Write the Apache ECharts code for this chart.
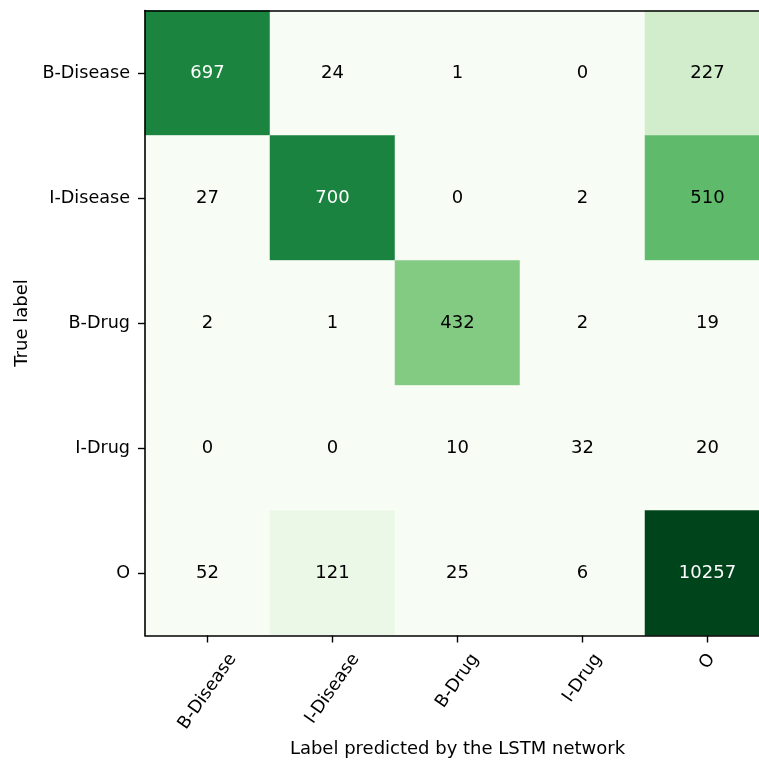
<!DOCTYPE html>
<html>
<head>
<meta charset="utf-8">
<script src="https://cdn.jsdelivr.net/npm/echarts@6/dist/echarts.min.js"></script>
<style>html,body{margin:0;padding:0;background:#fff;}#c{width:759px;height:760px;}</style>
</head>
<body>
<div id="c"></div>
<script>
const predictedLabels = ['B-Disease', 'I-Disease', 'B-Drug', 'I-Drug', 'O'];
const trueLabels = ['B-Disease', 'I-Disease', 'B-Drug', 'I-Drug', 'O'];
const rowBDisease = [697, 24, 1, 0, 227];
const rowIDisease = [27, 700, 0, 2, 510];
const rowBDrug = [2, 1, 432, 2, 19];
const rowIDrug = [0, 0, 10, 32, 20];
const rowO = [52, 121, 25, 6, 10257];
const matrix = [rowBDisease, rowIDisease, rowBDrug, rowIDrug, rowO];

const greens = ['#f7fcf5','#e5f5e0','#c7e9c0','#a1d99b','#74c476','#41ab5d','#238b45','#006d2c','#00441b'];
const font = 'DejaVu Sans';
const tickFontSize = 17.6;
const labelAngle = 55;

const data = [];
matrix.forEach((row, r) => {
  row.forEach((v, c) => {
    data.push({
      value: [c, r, v],
      label: { color: v > 600 ? '#ffffff' : '#000000' }
    });
  });
});

const frameAxis = {
  show: true,
  axisLine: { show: true, lineStyle: { color: '#000', width: 1.6 } },
  axisTick: { show: false },
  axisLabel: { show: false },
  splitLine: { show: false }
};

const chart = echarts.init(document.getElementById('c'), null, { renderer: 'canvas' });
chart.setOption({
  animation: false,
  backgroundColor: '#ffffff',
  grid: { left: 145, top: 10.5, width: 625, height: 625, outerBoundsMode: 'none', containLabel: false },
  xAxis: [{
    type: 'category',
    data: predictedLabels,
    name: 'Label predicted by the LSTM network',
    nameLocation: 'middle',
    nameGap: 105,
    nameTextStyle: { fontFamily: font, fontSize: 18, color: '#000' },
    axisLine: { show: true, lineStyle: { color: '#000', width: 1.6 } },
    axisTick: { show: true, alignWithLabel: true, length: 7, lineStyle: { color: '#000', width: 1.4 } },
    axisLabel: { show: false },
    splitLine: { show: false },
    z: 10
  }, Object.assign({ type: 'category', data: predictedLabels, position: 'top', z: 10 }, frameAxis)],
  yAxis: [{
    type: 'category',
    data: trueLabels,
    inverse: true,
    name: 'True label',
    nameLocation: 'middle',
    nameRotate: 90,
    nameGap: 113,
    nameTextStyle: { fontFamily: font, fontSize: 18, color: '#000' },
    axisLine: { show: true, lineStyle: { color: '#000', width: 1.6 } },
    axisTick: { show: true, alignWithLabel: true, length: 7, lineStyle: { color: '#000', width: 1.4 } },
    axisLabel: { margin: 15, fontFamily: font, fontSize: tickFontSize, color: '#000' },
    splitLine: { show: false },
    z: 10
  }, Object.assign({ type: 'category', data: trueLabels, inverse: true, position: 'right', z: 10 }, frameAxis)],
  visualMap: {
    show: false,
    type: 'continuous',
    min: 55,
    max: 880,
    dimension: 2,
    seriesIndex: 0,
    inRange: { color: greens }
  },
  series: [{
    type: 'heatmap',
    xAxisIndex: 0,
    yAxisIndex: 0,
    data: data,
    label: {
      show: true,
      fontFamily: font,
      fontSize: 18,
      formatter: p => String(p.value[2])
    },
    itemStyle: { borderWidth: 0 },
    emphasis: { disabled: true }
  }]
});

// Rotated x tick labels, matplotlib-style: rotated bounding box centred on the tick, top at a fixed pad below the axis
const ctx = document.createElement('canvas').getContext('2d');
ctx.font = tickFontSize + 'px "' + font + '"';
const a = labelAngle * Math.PI / 180;
const inkH = 13;
const axisY = chart.convertToPixel({ yAxisIndex: 0 }, trueLabels[trueLabels.length - 1]) + 62.5;
const bottomY = chart.getModel().getComponent('grid', 0).coordinateSystem.getRect();
const gridBottom = bottomY.y + bottomY.height;
const labelTop = gridBottom + 16.5;
const graphics = predictedLabels.map(name => {
  const L = ctx.measureText(name).width;
  const cx = chart.convertToPixel({ xAxisIndex: 0 }, name);
  const cy = labelTop + (L * Math.sin(a) + inkH * Math.cos(a)) / 2;
  return {
    type: 'text',
    x: cx,
    y: cy,
    rotation: a,
    silent: true,
    style: {
      text: name,
      fontFamily: font,
      fontSize: tickFontSize,
      fill: '#000',
      align: 'center',
      verticalAlign: 'middle'
    }
  };
});
chart.setOption({ graphic: graphics });
</script>
</body>
</html>
